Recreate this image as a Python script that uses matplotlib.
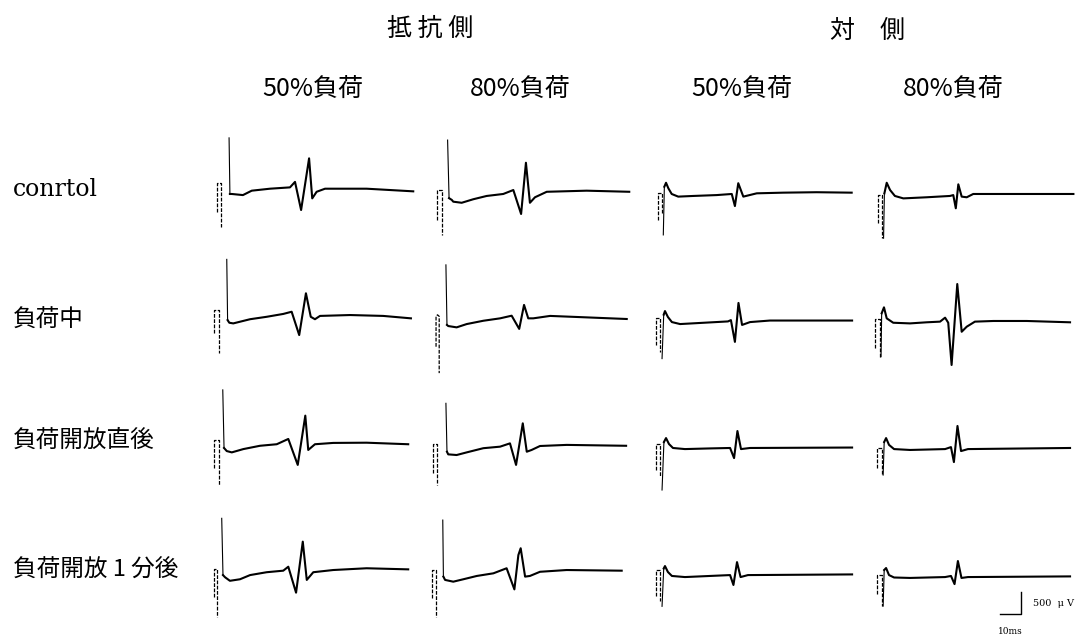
import matplotlib
matplotlib.use("Agg")
import numpy as np
import matplotlib.pyplot as plt

plt.rcParams['font.family'] = ['Noto Sans CJK JP', 'DejaVu Sans']

# Evoked responses, (time ms from stimulus, amplitude uV)
# columns: resistance side 50% / 80% load, contralateral 50% / 80% load
# rows: control, during load, just after release, 1 min after release
r50_ctrl_pulse = [(1.0, -450), (1.0, 200), (2.9, 200), (2.9, -800)]
r50_ctrl_wave = [(6.7, 1230), (7.1, -45), (8.0, -45), (13.3, -70), (17.5, 30), (26.2, 75),
                 (35.7, 105), (38.1, 230), (41.0, -410), (44.8, 765), (46.3, -145), (48.4, 5),
                 (52.4, 75), (72.2, 75), (94.4, 15)]
r80_ctrl_pulse = [(1.1, -625), (1.1, 45), (3.5, 45), (3.5, -975)]
r80_ctrl_wave = [(6.0, 1180), (6.7, -140), (8.0, -180), (8.7, -220), (12.7, -245), (18.2, -165),
                 (24.6, -90), (32.5, -45), (37.3, 45), (41.0, -500), (43.3, 665), (45.2, -245),
                 (47.6, -120), (53.2, 5), (72.2, 30), (92.5, 5)]
c50_ctrl_pulse = [(0.5, -635), (0.5, -15), (2.2, -15), (2.2, -485)]
c50_ctrl_wave = [(3.0, -975), (3.5, 120), (4.3, 210), (5.4, 85), (7.0, -45), (10.1, -105),
                 (17.2, -90), (28.4, -70), (35.6, -45), (37.1, -320), (38.7, 200), (41.1, -105),
                 (47.5, -30), (60.1, -15), (76.0, -5), (92.7, -15)]
c80_ctrl_pulse = [(0.8, -710), (0.8, -70), (3.0, -70), (3.0, -1050)]
c80_ctrl_wave = [(3.6, -1050), (4.0, -30), (5.1, 210), (6.7, 45), (9.0, -90), (13.0, -145),
                 (24.1, -120), (35.2, -90), (36.8, -70), (38.0, -370), (39.2, 175), (40.8, -105),
                 (43.2, -120), (46.3, -45), (63.8, -45), (94.0, -45)]

r50_load_pulse = [(-0.5, -320), (-0.5, 205), (1.9, 205), (1.9, -775)]
r50_load_wave = [(5.6, 1355), (6.0, -25), (6.8, -85), (8.7, -100), (16.7, -5), (24.6, 50),
                 (32.5, 115), (36.5, 165), (40.1, -365), (43.3, 585), (45.6, 50), (47.6, -5),
                 (50.0, 70), (64.3, 90), (80.1, 70), (93.3, 15)]
r80_load_pulse = [(0.5, -630), (0.5, 60), (1.2, 95), (2.0, 60), (2.0, -1230)]
r80_load_wave = [(5.2, 1230), (5.7, -135), (6.3, -160), (10.3, -190), (15.1, -115), (23.0, -40),
                 (31.0, 15), (36.5, 75), (40.1, -225), (42.4, 320), (44.4, 15), (46.8, 15),
                 (54.8, 70), (70.6, 40), (91.3, 0)]
c50_load_pulse = [(-0.5, -590), (-0.5, 25), (1.4, 25), (1.4, -750)]
c50_load_wave = [(2.4, -900), (3.2, 100), (3.8, 180), (5.2, 45), (7.1, -70), (11.0, -115),
                 (20.5, -90), (33.8, -55), (35.2, -25), (37.1, -520), (38.8, 365), (40.5, -135),
                 (44.3, -70), (53.8, -35), (92.9, -35)]
c80_load_pulse = [(-0.5, -665), (-0.5, 0), (1.9, 0), (1.9, -855)]
c80_load_wave = [(2.4, -855), (2.7, 130), (3.8, 265), (5.1, 15), (8.2, -85), (16.2, -100),
                 (24.1, -75), (30.5, -60), (32.9, 30), (34.4, -85), (36.0, -1045), (38.7, 795),
                 (40.8, -290), (43.2, -175), (47.1, -60), (55.9, -45), (71.8, -45), (92.4, -75)]

r50_rel0_pulse = [(-0.5, -500), (-0.5, 135), (1.9, 135), (1.9, -885)]
r50_rel0_wave = [(3.7, 1275), (4.3, -45), (5.6, -115), (8.0, -145), (13.5, -70), (21.4, 5),
                 (29.4, 40), (34.9, 160), (39.4, -430), (43.0, 690), (44.4, -90), (47.6, 40),
                 (56.3, 70), (72.2, 75), (92.0, 40)]
r80_rel0_pulse = [(-0.8, -615), (-0.8, 35), (0.9, 35), (0.9, -885)]
r80_rel0_wave = [(5.2, 970), (5.7, -130), (6.3, -190), (10.3, -205), (15.1, -145), (23.0, -50),
                 (31.0, -15), (35.7, 60), (38.6, -430), (41.8, 515), (43.7, -130), (46.0, -90),
                 (50.0, 0), (62.7, 25), (91.0, 5)]
c50_rel0_pulse = [(-0.5, -550), (-0.5, 45), (1.4, 45), (1.4, -680)]
c50_rel0_wave = [(2.4, -1000), (3.3, 90), (4.3, 180), (5.7, 45), (7.6, -45), (13.3, -70),
                 (25.2, -55), (34.8, -45), (36.7, -275), (38.3, 340), (40.0, -70), (44.3, -45),
                 (92.9, -35)]
c80_rel0_pulse = [(0.5, -500), (0.5, -45), (2.9, -45), (2.9, -635)]
c80_rel0_wave = [(3.4, -660), (3.9, 90), (4.8, 180), (6.2, 25), (8.6, -70), (16.2, -90),
                 (32.9, -70), (35.7, -25), (37.1, -365), (38.8, 455), (40.5, -115), (43.8, -70),
                 (92.4, -45)]

r50_rel1_pulse = [(-0.5, -560), (-0.5, 70), (0.8, 70), (0.8, -1015)]
r50_rel1_wave = [(3.2, 1220), (3.8, -70), (4.8, -120), (7.1, -200), (11.9, -165), (16.7, -70),
                 (24.6, -5), (32.5, 30), (34.9, 120), (38.6, -470), (41.8, 690), (43.7, -180),
                 (46.8, -5), (56.3, 45), (72.2, 85), (92.0, 60)]
r80_rel1_pulse = [(-1.6, -600), (-1.6, 45), (0.5, 45), (0.5, -1015)]
r80_rel1_wave = [(3.7, 1180), (4.0, -105), (4.8, -180), (8.7, -220), (13.5, -165), (19.9, -90),
                 (27.8, -30), (34.1, 85), (37.8, -395), (39.7, 385), (40.8, 540), (42.9, -105),
                 (45.2, -90), (50.0, 5), (62.7, 45), (88.9, 30)]
c50_rel1_pulse = [(-0.5, -545), (-0.5, 45), (1.4, 45), (1.4, -660)]
c50_rel1_wave = [(2.4, -780), (3.2, 80), (3.8, 135), (5.2, 0), (7.1, -90), (13.3, -115),
                 (25.2, -90), (34.8, -70), (36.4, -295), (38.1, 225), (39.8, -115), (43.3, -70),
                 (92.9, -55)]
c80_rel1_pulse = [(0.5, -500), (0.5, -70), (2.9, -70), (2.9, -775)]
c80_rel1_wave = [(3.4, -775), (3.9, 45), (4.8, 90), (6.2, -70), (8.6, -125), (16.2, -135),
                 (32.9, -115), (35.7, -90), (37.4, -275), (39.0, 250), (40.7, -135), (43.8, -115),
                 (92.4, -100)]

side_labels = ["抵抗側", "対　側"]
load_labels = ["50%負荷", "80%負荷", "50%負荷", "80%負荷"]
row_labels = ["conrtol", "負荷中", "負荷開放直後", "負荷開放 1 分後"]
SCALE_MS = 10
SCALE_UV = 500

grid = [
    [(r50_ctrl_pulse, r50_ctrl_wave), (r80_ctrl_pulse, r80_ctrl_wave),
     (c50_ctrl_pulse, c50_ctrl_wave), (c80_ctrl_pulse, c80_ctrl_wave)],
    [(r50_load_pulse, r50_load_wave), (r80_load_pulse, r80_load_wave),
     (c50_load_pulse, c50_load_wave), (c80_load_pulse, c80_load_wave)],
    [(r50_rel0_pulse, r50_rel0_wave), (r80_rel0_pulse, r80_rel0_wave),
     (c50_rel0_pulse, c50_rel0_wave), (c80_rel0_pulse, c80_rel0_wave)],
    [(r50_rel1_pulse, r50_rel1_wave), (r80_rel1_pulse, r80_rel1_wave),
     (c50_rel1_pulse, c50_rel1_wave), (c80_rel1_pulse, c80_rel1_wave)],
]

# page layout in pixels
W, H = 1086, 635
PX_PER_MS = 2.1
PX_PER_UV = 22.0 / 500
col_x = [215, 435, 657, 876]
row_y = [192, 319, 446, 572]

fig = plt.figure(figsize=(W / 100, H / 100), dpi=100)


def trace_axes(x0, y0, left=12, right=205, up=90, down=60):
    # axes whose data origin (0 ms, 0 uV) sits at pixel (x0, y0)
    ax = fig.add_axes([(x0 - left) / W, 1 - (y0 + down) / H,
                       (left + right) / W, (up + down) / H])
    ax.set_xlim(-left / PX_PER_MS, right / PX_PER_MS)
    ax.set_ylim(-down / PX_PER_UV, up / PX_PER_UV)
    ax.axis('off')
    return ax


for r, row in enumerate(grid):
    for c, (pulse, wave) in enumerate(row):
        ax = trace_axes(col_x[c], row_y[r])
        p = np.array(pulse)
        w = np.array(wave)
        ax.plot(p[:, 0], p[:, 1], color='black', lw=0.9, ls=(0, (3, 1.2)),
                clip_on=False)
        # fast deflection drawn as a thin stroke
        ax.plot(w[:2, 0], w[:2, 1], color='black', lw=0.8, clip_on=False)
        ax.plot(w[1:, 0], w[1:, 1], color='black', lw=1.5, clip_on=False,
                solid_joinstyle='round')

# calibration bar
ax = trace_axes(1021, 614, left=30, right=60, up=40, down=25)
ax.plot([-SCALE_MS, 0, 0], [0, 0, SCALE_UV], color='black', lw=1.0, clip_on=False)
ax.text(5.5, SCALE_UV * 0.5, f"{SCALE_UV}  μ V", fontsize=7, family='DejaVu Serif',
        va='center', ha='left')
ax.text(-SCALE_MS * 0.5, -SCALE_UV * 0.6, f"{SCALE_MS}ms", fontsize=6.5, family='DejaVu Serif',
        va='top', ha='center')

# headings
fig.text(430 / W, 1 - 29 / H, " ".join(side_labels[0]), fontsize=18, ha='center', va='center')
fig.text(868 / W, 1 - 31 / H, side_labels[1], fontsize=18, ha='center', va='center')
for x, lab in zip([313, 520, 742, 953], load_labels):
    fig.text(x / W, 1 - 89 / H, lab, fontsize=18, ha='center', va='center')

for y, lab in zip([190, 320, 440, 570], row_labels):
    fam = 'DejaVu Serif' if lab.isascii() else ['Noto Sans CJK JP', 'DejaVu Sans']
    fig.text(13 / W, 1 - y / H, lab, fontsize=17, ha='left', va='center', family=fam)

fig.savefig("out.png", dpi=100, facecolor='white')
